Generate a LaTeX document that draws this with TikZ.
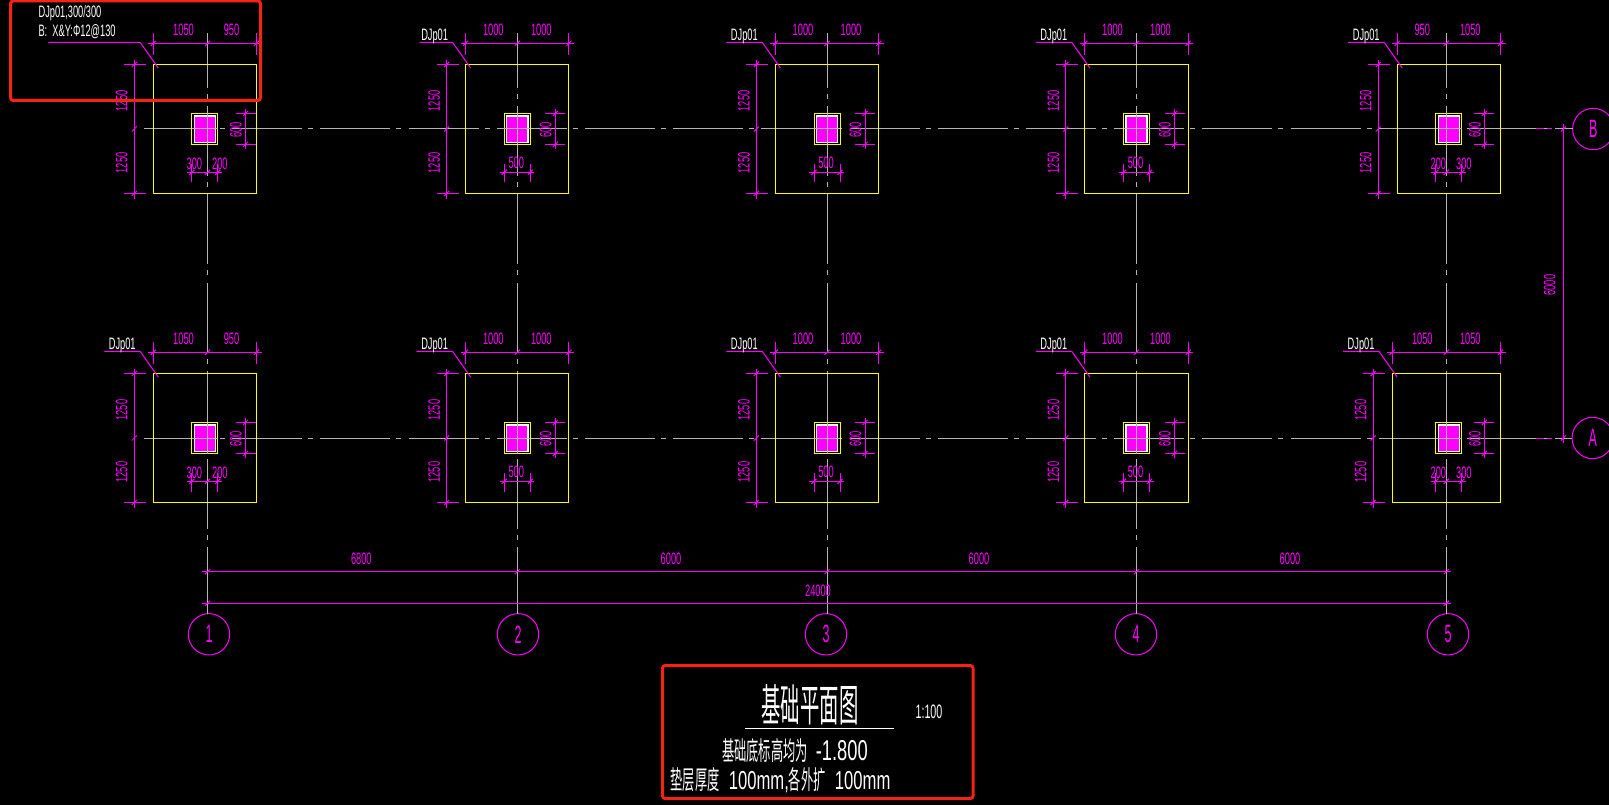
\documentclass[tikz,border=0pt]{standalone}
\usepackage{graphicx}
\usepackage{fontspec}
\setmainfont{Liberation Sans}
\newfontfamily\cjkfont{Noto Sans CJK SC}
\definecolor{cadmagenta}{HTML}{FF00FF}
\definecolor{cadyellow}{HTML}{FFFF00}
\definecolor{cadgrey}{HTML}{B4B4B4}
\definecolor{cadred}{HTML}{F52314}
\newcommand{\narrow}[1]{\scalebox{.56}[1]{#1}}
\newcommand{\wider}[1]{\scalebox{.64}[1]{#1}}
\newcommand{\cjkrun}[1]{\scalebox{.47}[1]{\cjkfont #1}}
\newcommand{\dimtick}[2]{\draw[dimline] (#1-2.5,#2+2.5) -- (#1+2.5,#2-2.5);}
\tikzset{
  dimline/.style={draw=cadmagenta,line width=.75pt},
  axisline/.style={draw=cadgrey,line width=.75pt,dash pattern=on 52.5pt off 4.5pt on 3.75pt off 5.4pt},
  footingline/.style={draw=cadyellow,line width=.75pt},
  dimlabel/.style={text=cadmagenta,inner sep=0pt,font=\fontsize{12.4}{13}\selectfont},
  marklabel/.style={text=white,inner sep=0pt,font=\fontsize{12.4}{13}\selectfont},
  axiscircle/.style={circle,draw=cadmagenta,line width=.75pt,minimum size=31pt,inner sep=0pt,outer sep=0pt,text=cadmagenta,font=\fontsize{18.75}{20}\selectfont},
  redframe/.style={draw=cadred,line width=2.25pt,rounded corners=2pt},
  whitetext/.style={text=white,inner sep=0pt}
}
% name, axis x, axis y, footing left, footing right, column left, column right, leader length
\newcommand{\footing}[8]{
\begin{scope}[shift={(#2,#3)}]
\pgfmathsetmacro{\ftL}{#4*.05167}
\pgfmathsetmacro{\ftR}{#5*.05167}
\pgfmathsetmacro{\colL}{#6*.052}
\pgfmathsetmacro{\colR}{#7*.052}
\draw[footingline] (-\ftL,-64.5) rectangle (\ftR,64.5);
\draw[footingline] (-\colL,-15.5) rectangle (\colR,15.5);
\draw[draw=white,line width=1pt,fill=cadmagenta] (-\colL+2.4,-13) rectangle (\colR-2.4,13.3);
\draw[draw=cadgrey,line width=.75pt] (-\colL,0) -- (\colR,0);
\draw[draw=cadgrey,line width=.75pt] (0,-15.5) -- (0,15.5);
\draw[dimline] (-\ftL-5,-85.7) -- (\ftR+5,-85.7);
\draw[dimline] (-\ftL,-96) -- (-\ftL,-74);
\draw[dimline] (\ftR,-96) -- (\ftR,-74);
\dimtick{-\ftL}{-85.7}
\dimtick{0}{-85.7}
\dimtick{\ftR}{-85.7}
\node[dimlabel] (#1-top-l) at (-24,-99) {\narrow{#4}};
\node[dimlabel] (#1-top-r) at (24,-99) {\narrow{#5}};
\draw[dimline] (-\ftL-19,-69) -- (-\ftL-19,70);
\draw[dimline] (-\ftL-29,-64.5) -- (-\ftL-7,-64.5);
\draw[dimline] (-\ftL-29,64.5) -- (-\ftL-7,64.5);
\dimtick{-\ftL-19}{-64.5}
\dimtick{-\ftL-19}{0}
\dimtick{-\ftL-19}{64.5}
\node[dimlabel,rotate=90] (#1-side-t) at (-\ftL-31.5,-28) {\narrow{1250}};
\node[dimlabel,rotate=90] (#1-side-b) at (-\ftL-31.5,34) {\narrow{1250}};
\draw[dimline] (38,-20) -- (38,20);
\draw[dimline] (28,-15.5) -- (48,-15.5);
\draw[dimline] (28,15.5) -- (48,15.5);
\dimtick{38}{-15.5}
\dimtick{38}{15.5}
\node[dimlabel,rotate=90] (#1-col-h) at (28.5,1) {\narrow{600}};
\draw[dimline] (-\colL-4.6,43.3) -- (\colR+4,43.3);
\draw[dimline] (-\colL,35) -- (-\colL,53.5);
\draw[dimline] (\colR,35) -- (\colR,53.5);
\dimtick{-\colL}{43.3}
\dimtick{\colR}{43.3}
\ifnum#6=#7
\node[dimlabel] (#1-col-w) at (-1,34) {\narrow{500}};
\else
\dimtick{0}{43.3}
\node[dimlabel] (#1-col-l) at (-\colL+2.5,35) {\narrow{#6}};
\node[dimlabel] (#1-col-r) at (\colR+2,35) {\narrow{#7}};
\fi
\draw[dimline] (-\ftL-13-#8,-86.5) -- (-\ftL-13,-86.5) -- (-\ftL+5,-61);
\ifnum#8<50
\node[marklabel] (#1-mark) at (-\ftL-13-18,-93) {\narrow{DJp01}};
\fi
\end{scope}
}

\begin{document}
\begin{tikzpicture}[x=.75pt,y=-.75pt]
\path[fill=black,use as bounding box] (0,0) rectangle (1609,805);

\node[axiscircle] (ax1) at (209,634.3) {\scalebox{.5}[1]{1}};
\node[axiscircle] (ax2) at (518,634.3) {\scalebox{.5}[1]{2}};
\node[axiscircle] (ax3) at (826,634.3) {\scalebox{.5}[1]{3}};
\node[axiscircle] (ax4) at (1136,634.3) {\scalebox{.5}[1]{4}};
\node[axiscircle] (ax5) at (1448,634.3) {\scalebox{.5}[1]{5}};
\node[axiscircle] (axB) at (1593.3,129) {\scalebox{.5}[1]{B}};
\node[axiscircle] (axA) at (1592.7,438) {\scalebox{.5}[1]{A}};

\coordinate (top1) at (207.5,33);
\coordinate (top2) at (517.3,33);
\coordinate (top3) at (827,33);
\coordinate (top4) at (1136.5,33);
\coordinate (top5) at (1446.3,33);
\coordinate (startB) at (144,129);
\coordinate (startA) at (144,438);
\draw[axisline,dash phase=11.25pt] (top1) -- (top1 |- ax1.north);
\draw[axisline,dash phase=11.25pt] (top2) -- (top2 |- ax2.north);
\draw[axisline,dash phase=11.25pt] (top3) -- (top3 |- ax3.north);
\draw[axisline,dash phase=11.25pt] (top4) -- (top4 |- ax4.north);
\draw[axisline,dash phase=11.25pt] (top5) -- (top5 |- ax5.north);
\draw[axisline] (startB) -- (startB -| axB.west);
\draw[axisline] (startA) -- (startA -| axA.west);
\draw[dimline,dash pattern=on 6pt off 2pt] (1536,129) -- (1552,129);
\draw[dimline,dash pattern=on 6pt off 2pt] (1536,438) -- (1552,438);

\footing{B1}{207.5}{129}{1050}{950}{300}{200}{92}
\footing{B2}{517.3}{129}{1000}{1000}{250}{250}{33}
\footing{B3}{827}{129}{1000}{1000}{250}{250}{36}
\footing{B4}{1136.5}{129}{1000}{1000}{250}{250}{36}
\footing{B5}{1446.3}{129}{950}{1050}{200}{300}{36}
\footing{A1}{207.5}{438}{1050}{950}{300}{200}{36}
\footing{A2}{517.3}{438}{1000}{1000}{250}{250}{36}
\footing{A3}{827}{438}{1000}{1000}{250}{250}{36}
\footing{A4}{1136.5}{438}{1000}{1000}{250}{250}{36}
\footing{A5}{1446.3}{438}{1050}{1050}{200}{300}{36}

\node[marklabel,anchor=west] (note1) at (38.3,13.3) {\narrow{DJp01,300/300}};
\node[marklabel,anchor=west] (note2) at (38.3,31.7) {\narrow{B:\ \ X\&Y:Φ12@130}};

\coordinate (dimA) at (201.7,571.7);
\coordinate (dimB) at (1450.7,571.7);
\coordinate (dimC) at (201.7,603.3);
\coordinate (dimD) at (1450.7,603.3);
\coordinate (dimE) at (1563.3,124);
\coordinate (dimF) at (1563.3,443);
\draw[dimline] (dimA) -- (dimB);
\draw[dimline] (dimC) -- (dimD);
\draw[dimline] (dimE) -- (dimF);
\dimtick{207.5}{571.7}
\dimtick{517.3}{571.7}
\dimtick{827}{571.7}
\dimtick{1136.5}{571.7}
\dimtick{1446.3}{571.7}
\dimtick{207.5}{603.3}
\dimtick{1446.3}{603.3}
\dimtick{1563.3}{129}
\dimtick{1563.3}{438}
\node[dimlabel] (span1) at (361.3,559.3) {\narrow{6800}};
\node[dimlabel] (span2) at (671,559.3) {\narrow{6000}};
\node[dimlabel] (span3) at (979,559.3) {\narrow{6000}};
\node[dimlabel] (span4) at (1290,559.3) {\narrow{6000}};
\node[dimlabel] (span5) at (818,591) {\narrow{24000}};
\node[dimlabel,rotate=90] (span6) at (1549.6,285) {\narrow{6000}};

\node[whitetext,font=\fontsize{33}{35}\selectfont] (title) at (810,705) {\scalebox{.44}[1]{\cjkfont 基础平面图}};
\coordinate (ruleL) at (745,728.3);
\coordinate (ruleR) at (894,728.3);
\draw[draw=white,line width=.75pt] (ruleL) -- (ruleR);
\node[whitetext,font=\fontsize{14.6}{16}\selectfont] (ratio) at (929,712) {\scalebox{.55}[1]{1:100}};
\node[whitetext,font=\fontsize{19.5}{22}\selectfont] (level) at (795,751) {\cjkrun{基础底标高均为}\hspace{6pt}\wider{\fontsize{21.5}{22}\selectfont -1.800}};
\node[whitetext,font=\fontsize{19.5}{22}\selectfont] (pad) at (780.5,780) {\cjkrun{垫层厚度}\hspace{7pt}\wider{100mm,}\cjkrun{各外扩}\hspace{7pt}\wider{100mm}};

\draw[redframe] (10.5,1) rectangle (260.5,100.5);
\draw[redframe] (662.5,665.5) rectangle (973,798.5);
\end{tikzpicture}
\end{document}
